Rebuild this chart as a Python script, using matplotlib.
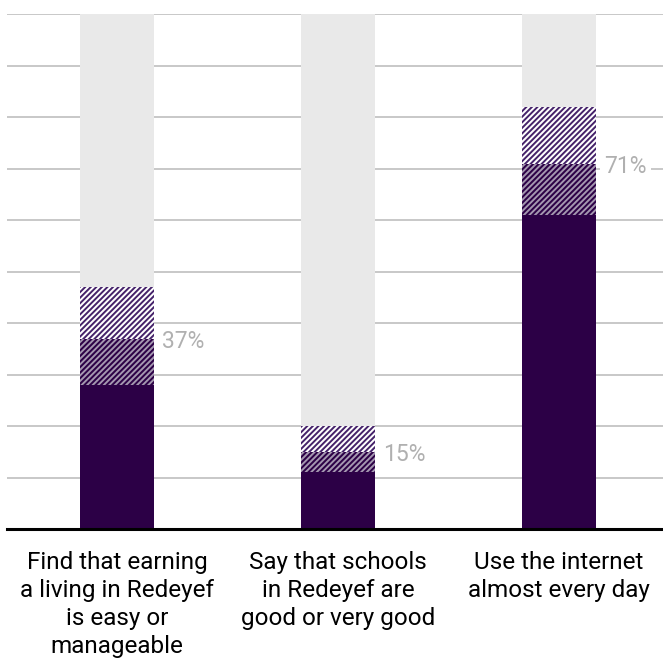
import matplotlib.pyplot as plt
import numpy as np

plt.rcParams['font.family'] = ['Roboto', 'DejaVu Sans']
plt.rcParams['hatch.linewidth'] = 1.4

categories = [
    "Find that earning\na living in Redeyef\nis easy or\nmanageable",
    "Say that schools\nin Redeyef are\ngood or very good",
    "Use the internet\nalmost every day",
]
solid = [28, 11, 61]       # solid part
dense = [9, 4, 10]         # dark hatched part
light = [10, 5, 11]        # light hatched part
labels = ["37%", "15%", "71%"]

PURPLE = "#2c0046"

fig = plt.figure(figsize=(6.63, 6.58), dpi=100)
ax = fig.add_axes([0.0106, 0.196, 0.9894, 0.782])

x = np.arange(len(categories))
w = 0.335
solid = np.array(solid)
dense = np.array(dense)
light = np.array(light)

# gray 100% background bars
ax.bar(x, [100] * len(x), w, color="#e9e9e9", zorder=2)
ax.bar(x, solid, w, color=PURPLE, linewidth=0, zorder=3)
ax.bar(x, dense, w, bottom=solid, color=PURPLE, edgecolor="#a497b0",
       hatch="//////", linewidth=0, zorder=3)
ax.bar(x, light, w, bottom=solid + dense, color="white", edgecolor="#45226a",
       hatch="//////", linewidth=0, zorder=3)

for xi, top, lab in zip(x, solid + dense, labels):
    ax.text(xi + w / 2 + 0.035, top - 0.6, lab, ha="left", va="center",
            fontsize=16.5, color="#b0b0b0", zorder=4,
            bbox=dict(facecolor="white", edgecolor="none", pad=3))

ax.set_xlim(-0.498, 2.47)
ax.set_ylim(0, 100)
ax.set_yticks(np.arange(0, 101, 10))
ax.yaxis.grid(True, color="#c8c8c8", linewidth=1.4, zorder=0)
ax.set_axisbelow(True)
ax.tick_params(axis="y", left=False, labelleft=False)

ax.set_xticks(x)
ax.set_xticklabels(categories, fontsize=17.5, linespacing=1.28)
ax.tick_params(axis="x", length=0, pad=16)

for s in ["left", "right", "top"]:
    ax.spines[s].set_visible(False)
ax.spines["bottom"].set_color("black")
ax.spines["bottom"].set_linewidth(2.2)
ax.spines["bottom"].set_zorder(5)

fig.savefig("out.png", dpi=100)
